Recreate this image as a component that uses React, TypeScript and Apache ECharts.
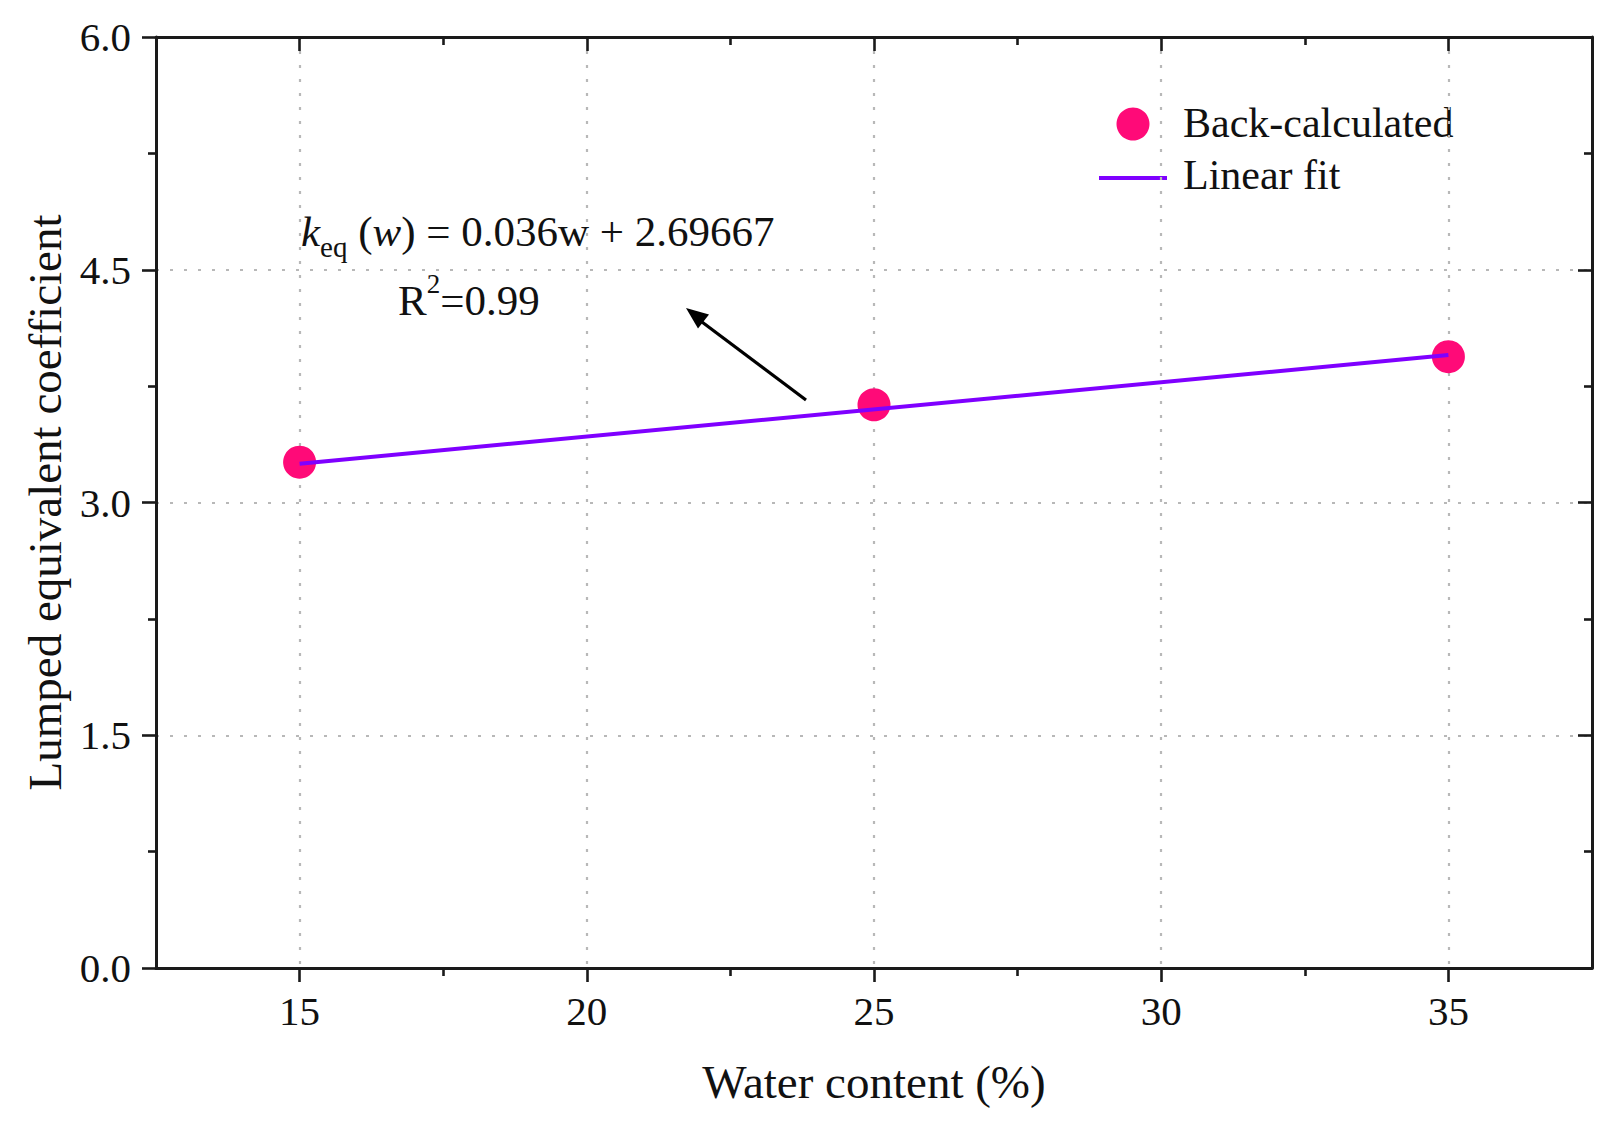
import React, { useEffect, useRef } from "react";
import * as echarts from "echarts";

const xValues = [15, 25, 35];
const backCalculated = [3.26, 3.63, 3.94];
const fitX = [15, 35];
const fitY = [3.25, 3.95];
const xMajor = [15, 20, 25, 30, 35];
const xMinor = [17.5, 22.5, 27.5, 32.5];
const yMajor = [0, 1.5, 3, 4.5, 6];
const yMinor = [0.75, 2.25, 3.75, 5.25];

const FONT = '"Liberation Serif", "Times New Roman", serif';
const PINK = "#FF0A78";
const VIOLET = "#7F00FF";
const AXIS = "#1a1a1a";

export default function App() {
  const ref = useRef<HTMLDivElement>(null);
  useEffect(() => {
    document.body.style.margin = "0";
    if (!ref.current) return;
    const chart = echarts.init(ref.current, null, { renderer: "svg" });
    const gridLine = { show: true, lineStyle: { color: "#b8b8b8", width: 2.2, type: [3, 11] as any } };
    const axisLine = { show: true, onZero: false, lineStyle: { color: AXIS, width: 3 } };
    const xBase = { type: "value", min: 12.5, max: 37.5, interval: 2.5 };
    const yBase = { type: "value", min: 0, max: 6, interval: 0.75 };
    const tickStyle = { color: AXIS, width: 2.6 };
    chart.setOption({
      animation: false,
      backgroundColor: "#ffffff",
      textStyle: { fontFamily: FONT },
      grid: { left: 156, right: 18, top: 37, bottom: 172 },
      xAxis: [
        {
          ...xBase,
          position: "bottom",
          axisLine,
          axisTick: { show: true, customValues: xMajor, length: 14, lineStyle: tickStyle },
          axisLabel: { customValues: xMajor, fontSize: 41, color: "#111", margin: 22, fontFamily: FONT },
          splitLine: gridLine,
          name: "Water content (%)",
          nameLocation: "middle",
          nameGap: 90,
          nameTextStyle: { fontSize: 47, color: "#111", fontFamily: FONT },
        },
        {
          ...xBase,
          position: "bottom",
          axisLine: { show: false, onZero: false },
          axisTick: { show: true, customValues: xMinor, length: 8, lineStyle: tickStyle },
          axisLabel: { show: false },
          splitLine: { show: false },
        },
        {
          ...xBase,
          position: "top",
          axisLine,
          axisTick: { show: true, inside: true, customValues: xMajor, length: 14, lineStyle: tickStyle },
          axisLabel: { show: false },
          splitLine: { show: false },
        },
        {
          ...xBase,
          position: "top",
          axisLine: { show: false, onZero: false },
          axisTick: { show: true, inside: true, customValues: xMinor, length: 8, lineStyle: tickStyle },
          axisLabel: { show: false },
          splitLine: { show: false },
        },
      ],
      yAxis: [
        {
          ...yBase,
          position: "left",
          axisLine,
          axisTick: { show: true, customValues: yMajor, length: 14, lineStyle: tickStyle },
          axisLabel: {
            customValues: yMajor,
            fontSize: 41,
            color: "#111",
            margin: 25,
            fontFamily: FONT,
            formatter: (v: number) => v.toFixed(1),
          },
          splitLine: gridLine,
          name: "Lumped equivalent coefficient",
          nameLocation: "middle",
          nameRotate: 90,
          nameGap: 88,
          nameTextStyle: { fontSize: 47, color: "#111", fontFamily: FONT },
        },
        {
          ...yBase,
          position: "left",
          axisLine: { show: false, onZero: false },
          axisTick: { show: true, customValues: yMinor, length: 8, lineStyle: tickStyle },
          axisLabel: { show: false },
          splitLine: { show: false },
        },
        {
          ...yBase,
          position: "right",
          axisLine,
          axisTick: { show: true, inside: true, customValues: yMajor, length: 14, lineStyle: tickStyle },
          axisLabel: { show: false },
          splitLine: { show: false },
        },
        {
          ...yBase,
          position: "right",
          axisLine: { show: false, onZero: false },
          axisTick: { show: true, inside: true, customValues: yMinor, length: 8, lineStyle: tickStyle },
          axisLabel: { show: false },
          splitLine: { show: false },
        },
      ],
      series: [
        {
          name: "Back-calculated",
          type: "scatter",
          data: xValues.map((x, i) => [x, backCalculated[i]]),
          symbol: "circle",
          symbolSize: 33,
          itemStyle: { color: PINK, opacity: 1 },
          z: 2,
        },
        {
          name: "Linear fit",
          type: "line",
          data: fitX.map((x, i) => [x, fitY[i]]),
          showSymbol: false,
          symbol: "none",
          lineStyle: { color: VIOLET, width: 4 },
          z: 3,
        },
      ],
      graphic: [
        { type: "circle", shape: { cx: 1133, cy: 124, r: 16.5 }, style: { fill: PINK } },
        { type: "line", shape: { x1: 1099, y1: 178, x2: 1167, y2: 178 }, style: { stroke: VIOLET, lineWidth: 4 } },
        {
          type: "text",
          x: 1183,
          y: 123,
          style: { text: "Back-calculated", font: `42px ${FONT}`, fill: "#111", textVerticalAlign: "middle" },
        },
        {
          type: "text",
          x: 1183,
          y: 175,
          style: { text: "Linear fit", font: `42px ${FONT}`, fill: "#111", textVerticalAlign: "middle" },
        },
        {
          type: "text",
          x: 301,
          y: 201,
          style: {
            text: "{k|k}{sub|eq} ({w|w}) = 0.036w + 2.69667",
            fontSize: 43,
            fontFamily: FONT,
            fill: "#111",
            lineHeight: 60,
            textVerticalAlign: "top",
            rich: {
              k: { fontSize: 43, fontStyle: "italic", fontFamily: FONT, lineHeight: 60 },
              w: { fontSize: 43, fontStyle: "italic", fontFamily: FONT, lineHeight: 60 },
              sub: { fontSize: 29, fontFamily: FONT, lineHeight: 28, verticalAlign: "bottom" },
            },
          },
        },
        {
          type: "text",
          x: 398,
          y: 270,
          style: {
            text: "R{sup|2}=0.99",
            fontSize: 43,
            fontFamily: FONT,
            fill: "#111",
            lineHeight: 60,
            textVerticalAlign: "top",
            rich: {
              sup: { fontSize: 27, fontFamily: FONT, lineHeight: 46, verticalAlign: "top" },
            },
          },
        },
        { type: "line", shape: { x1: 806, y1: 400, x2: 702, y2: 322 }, style: { stroke: "#000", lineWidth: 3.2 } },
        {
          type: "polygon",
          shape: { points: [[686, 308], [709, 314.5], [698, 328.5]] },
          style: { fill: "#000" },
        },
      ],
    });
    return () => chart.dispose();
  }, []);
  return <div ref={ref} style={{ width: 1610, height: 1140 }} />;
}
